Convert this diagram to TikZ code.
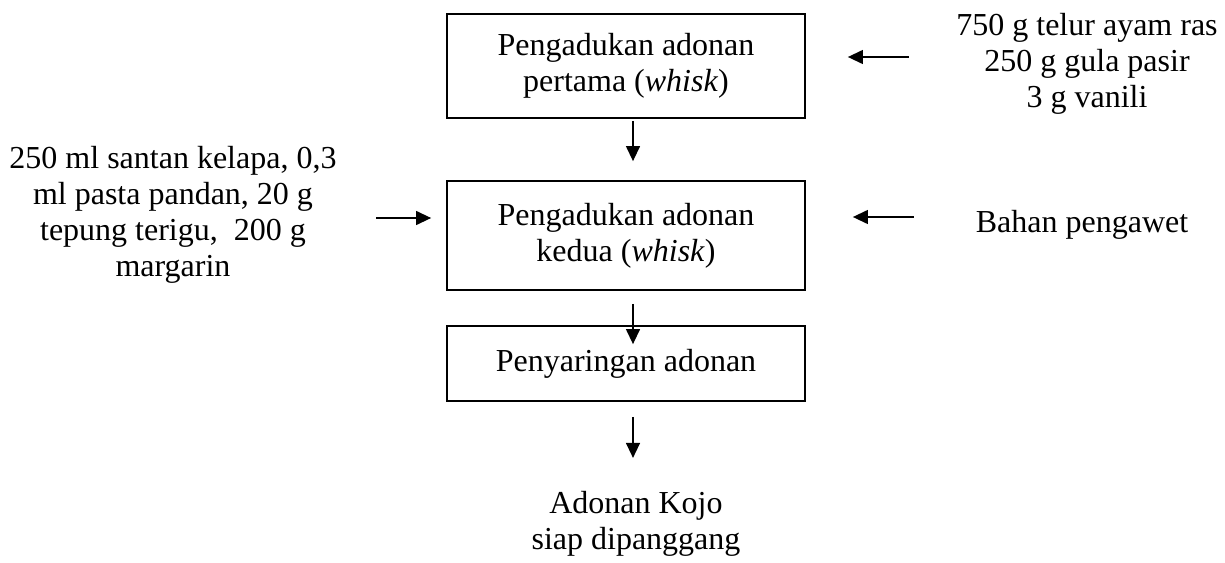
\documentclass[tikz,border=0pt]{standalone}
\usepackage{fontspec}
\setmainfont{Liberation Serif}
\usetikzlibrary{positioning,calc,arrows.meta}
\tikzset{font=\fontsize{16pt}{18pt}\selectfont}
\tikzset{
	stepbox/.style={draw, line width=0.9pt, minimum width=179pt, align=center, inner sep=2pt},
	arr/.style={-{Triangle[length=7.5pt,width=7pt]}, line width=0.65pt},
}

\begin{document}
\begin{tikzpicture}[x=0.5pt, y=-0.5pt]
	\useasboundingbox (0,0) rectangle (1225,562);
	\begin{scope}
		\tikzstyle{every node}=[align=center, inner sep=1pt]
		\node[stepbox, minimum height=52pt] (b1) at (626, 66) {Pengadukan adonan\\pertama (\textit{whisk})};
		\node[stepbox, minimum height=54.5pt] (b2) at (626, 235.5) {Pengadukan adonan\\kedua (\textit{whisk})};
		\node[stepbox, minimum height=37.5pt] (b3) at (626, 363.5) {Penyaringan adonan};
		\node (out) at (636, 524) {Adonan Kojo\\siap dipanggang};

		\node (in1) at (1087, 64) {750 g telur ayam ras\\250 g gula pasir\\3 g vanili};
		\node (in2) at (173, 215) {250 ml santan kelapa, 0,3\\ml pasta pandan, 20 g\\tepung terigu, \ 200 g\\margarin};
		\node[anchor=base] (in3) at (1082, 232) {Bahan pengawet};

		\draw[arr] ([xshift=3.5pt, yshift=-1pt]b1.south) -- ([xshift=3.5pt, yshift=9.5pt]b2.north);
		\draw[arr] ([xshift=3.5pt, yshift=-6.5pt]b2.south) -- ([xshift=3.5pt, yshift=-9.5pt]b3.north);
		\draw[arr] ([xshift=3.5pt, yshift=-7.5pt]b3.south) -- ([xshift=3.5pt, yshift=-28pt]b3.south);

		\draw[arr] ([yshift=4.5pt]b1.east) ++(51.5pt,0) -- ([xshift=21pt, yshift=4.5pt]b1.east);
		\draw[arr] ([yshift=9.25pt]b2.east) ++(54pt,0) -- ([xshift=23.5pt, yshift=9.25pt]b2.east);
		\draw[arr] ([yshift=8.75pt]b2.west) ++(-35pt,0) -- ([xshift=-7.5pt, yshift=8.75pt]b2.west);
	\end{scope}
\end{tikzpicture}
\end{document}
